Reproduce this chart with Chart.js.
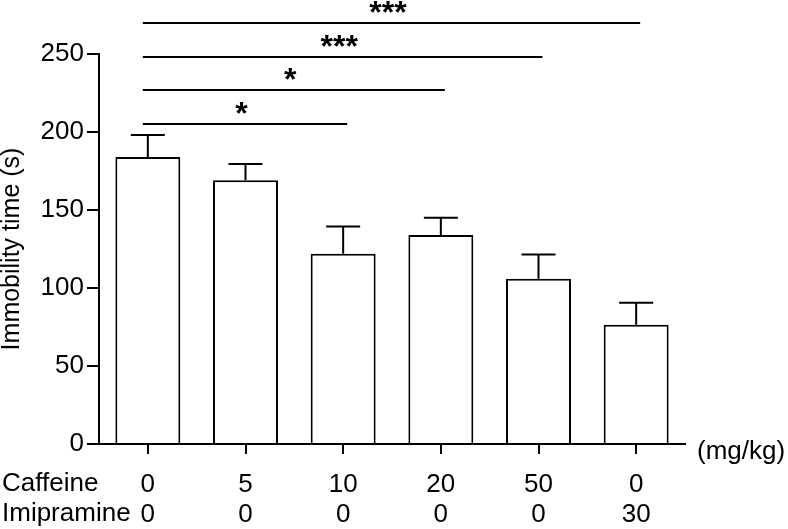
<!DOCTYPE html>
<html>
<head>
<meta charset="utf-8">
<script src="https://cdn.jsdelivr.net/npm/chart.js@4.4.1/dist/chart.umd.min.js"></script>
<style>
    body { margin: 0; background: #ffffff; }
    #wrap { width: 788px; height: 529px; position: relative; }
</style>
</head>
<body>
<div id="wrap"><canvas id="immobilityChart"></canvas></div>
<script>
// Dati
const caffeineDose = ['0', '5', '10', '20', '50', '0'];
const imipramineDose = ['0', '0', '0', '0', '0', '30'];
const meanImmobility = [184, 169, 122, 134, 106, 76.5];
const semImmobility = [14, 10.5, 17.5, 11, 15.5, 14];
const yTicks = [0, 50, 100, 150, 200, 250];
// confronti con il controllo (indice 0)
const sigTarget = [2, 3, 4, 5];
const sigMark = ['*', '*', '***', '***'];

const FONT = "'Liberation Sans', Arial, Helvetica, sans-serif";

// Barre di errore (solo verso l'alto)
const errorBarsPlugin = {
    id: 'errorBars',
    afterDatasetsDraw(chart) {
        const ctx = chart.ctx;
        const yScale = chart.scales.y;
        const meta = chart.getDatasetMeta(0);
        ctx.save();
        ctx.strokeStyle = '#000';
        ctx.lineWidth = 2;
        meta.data.forEach((bar, i) => {
            const yTop = yScale.getPixelForValue(meanImmobility[i] + semImmobility[i]);
            ctx.beginPath();
            ctx.moveTo(bar.x, bar.y);
            ctx.lineTo(bar.x, yTop);
            ctx.moveTo(bar.x - 17, yTop);
            ctx.lineTo(bar.x + 17, yTop);
            ctx.stroke();
        });
        ctx.restore();
    }
};

// Linee di significatività + etichette delle righe
const annotationsPlugin = {
    id: 'annotations',
    afterDraw(chart) {
        const ctx = chart.ctx;
        const xScale = chart.scales.x;
        const yScale = chart.scales.y;
        ctx.save();
        ctx.strokeStyle = '#000';
        ctx.fillStyle = '#000';
        ctx.lineWidth = 2;
        const x0 = xScale.getPixelForValue(0);
        sigTarget.forEach((t, i) => {
            const y = Math.round(yScale.getPixelForValue(206 + i * 21.5)) + 1;
            const x1 = xScale.getPixelForValue(t);
            ctx.beginPath();
            ctx.moveTo(x0 - 5, y);
            ctx.lineTo(x1 + 4, y);
            ctx.stroke();
            ctx.font = 'bold 32px ' + FONT;
            ctx.textAlign = 'center';
            ctx.textBaseline = 'alphabetic';
            ctx.fillText(sigMark[i], (x0 + x1) / 2 - 4, y);
        });

        // Etichette righe sotto l'asse x
        ctx.font = '26px ' + FONT;
        ctx.textAlign = 'left';
        ctx.textBaseline = 'middle';
        ctx.fillText('Caffeine', 2, 484);
        ctx.fillText('Imipramine', 2, 514);
        ctx.fillText('(mg/kg)', 697, 452);
        ctx.restore();
    }
};

const chartCtx = document.getElementById('immobilityChart').getContext('2d');
const immobilityChart = new Chart(chartCtx, {
    type: 'bar',
    data: {
        labels: caffeineDose.map((c, i) => [c, imipramineDose[i]]),
        datasets: [{
            data: meanImmobility,
            backgroundColor: '#ffffff',
            borderColor: '#000000',
            borderWidth: 2,
            borderSkipped: 'start',
            barPercentage: 0.665,
            categoryPercentage: 1
        }]
    },
    options: {
        responsive: true,
        maintainAspectRatio: false,
        animation: false,
        layout: { padding: { top: 54, right: 103, left: 0, bottom: 0 } },
        scales: {
            x: {
                grid: { drawOnChartArea: false, offset: false, tickLength: 10, color: '#000', lineWidth: 2 },
                border: { color: '#000', width: 2 },
                ticks: { color: '#000', font: { size: 26, family: FONT, lineHeight: 1.15 }, padding: 16, maxRotation: 0 },
                afterFit: (scale) => { scale.height = 85; }
            },
            y: {
                min: 0,
                max: 250,
                afterBuildTicks: (scale) => { scale.ticks = yTicks.map(v => ({ value: v })); },
                grid: { drawOnChartArea: false, tickLength: 12, color: '#000', lineWidth: 2 },
                border: { color: '#000', width: 2 },
                ticks: { color: '#000', font: { size: 26, family: FONT }, padding: 3 },
                title: { display: true, text: 'Immobility time (s)', color: '#000', font: { size: 25, family: FONT, lineHeight: 1 }, padding: 0 },
                afterFit: (scale) => { scale.width = 99; }
            }
        },
        plugins: {
            legend: { display: false },
            tooltip: { enabled: false }
        }
    },
    plugins: [errorBarsPlugin, annotationsPlugin]
});
</script>
</body>
</html>
